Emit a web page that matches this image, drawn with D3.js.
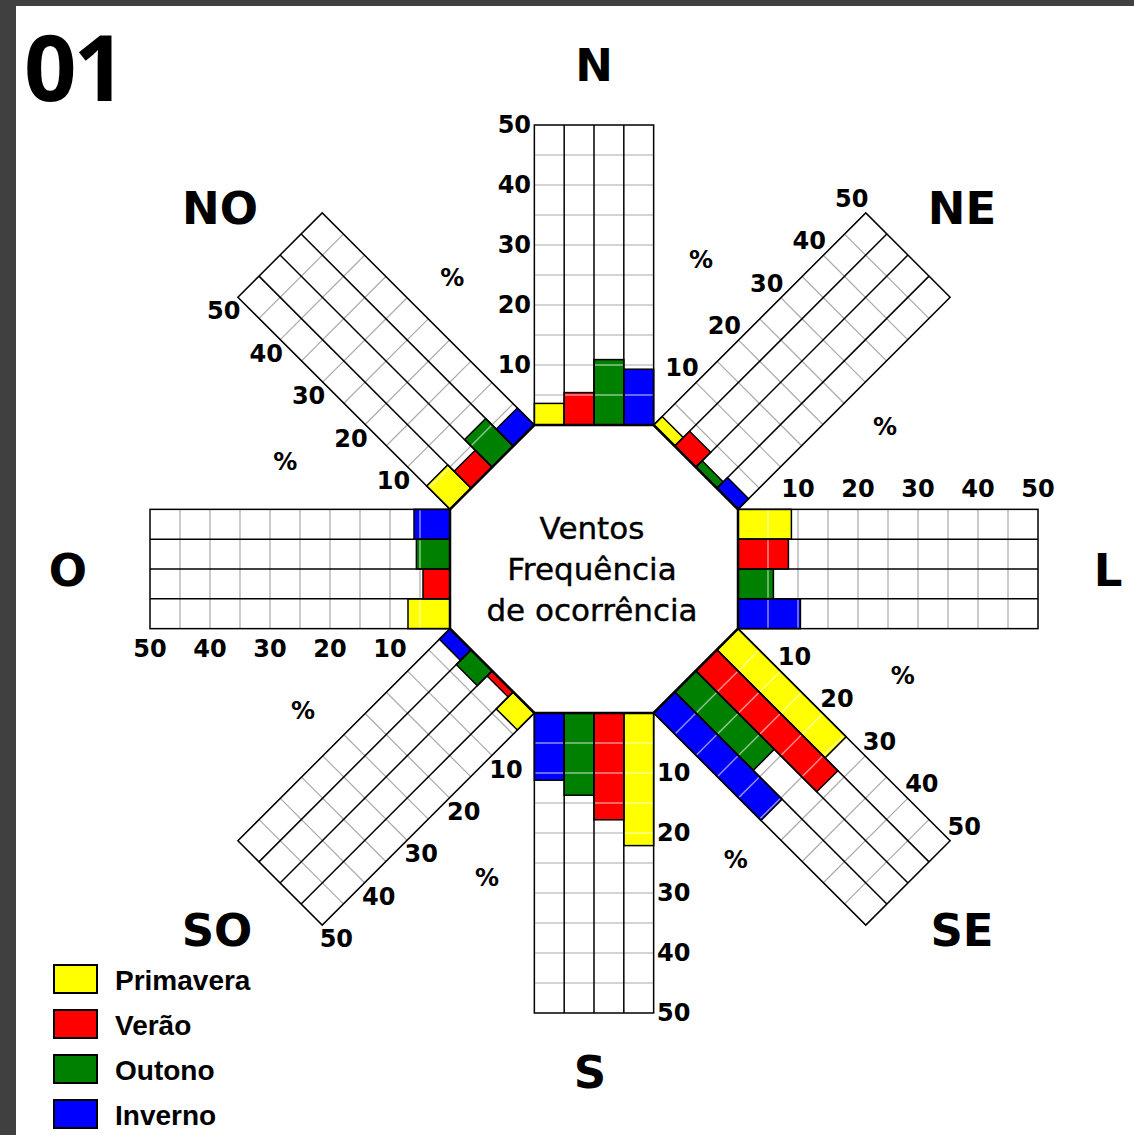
<!DOCTYPE html>
<html>
<head>
<meta charset="utf-8">
<script src="https://cdn.jsdelivr.net/npm/d3@7"></script>
<style>
  body { margin: 0; background: #fff; }
  svg { display: block; }
</style>
</head>
<body>
<div id="chart"></div>
<script>
// Directions, clockwise from north
const directions = ["N", "NE", "L", "SE", "S", "SO", "O", "NO"];
const seasons = ["Primavera", "Verão", "Outono", "Inverno"];

// Frequency of occurrence (%) per direction, one array per season
const primavera = [3.6, 2.0, 8.9, 25.5, 22.1, 4.0, 7.0, 5.5];
const verao     = [5.4, 3.5, 8.4, 28.5, 17.8, 1.2, 4.5, 4.0];
const outono    = [10.9, 1.5, 5.9, 18.5, 13.7, 3.5, 5.6, 6.5];
const inverno   = [9.3, 2.5, 10.4, 25.3, 11.2, 2.5, 6.0, 4.0];

const tickValues = [10, 20, 30, 40, 50];
const seasonColors = ["#ffff00", "#ff0000", "#008000", "#0000ff"];

// Layout
const W = 1134, H = 1135;
const cx = 594, cy = 569;
const apothem = 144;
const armW = 2 * apothem * Math.tan(Math.PI / 8);
// Direction name offsets from the centre
const labelOffset = [[0, -504], [368, -361], [514, 1], [368, 361], [-4, 503], [-377, 361], [-526, 1], [-374, -361]];

const svg = d3.select("#chart").append("svg").attr("width", W).attr("height", H);

// Dark frame
svg.append("rect").attr("x", 0).attr("y", 0).attr("width", 16).attr("height", H).attr("fill", "#404040");
svg.append("rect").attr("x", 0).attr("y", 0).attr("width", W).attr("height", 6).attr("fill", "#404040");

// Scales: value along the arm, season across the arm
const r = d3.scaleLinear().domain([0, 50]).range([0, 300]);
const band = d3.scaleBand().domain(seasons).range([-armW / 2, armW / 2]);

directions.forEach((dir, i) => {
  let angle = i * 45;
  let g = svg.append("g").attr("transform", `translate(${cx},${cy}) rotate(${angle})`);
  let base = -apothem;

  // Arm background
  g.append("rect")
    .attr("x", -armW / 2).attr("y", base - r(50))
    .attr("width", armW).attr("height", r(50))
    .attr("fill", "#fff");

  // Grid lines every 5%
  g.selectAll("line.grid").data(d3.range(5, 50, 5)).enter().append("line")
    .attr("class", "grid")
    .attr("x1", -armW / 2).attr("x2", armW / 2)
    .attr("y1", d => base - r(d)).attr("y2", d => base - r(d))
    .attr("stroke", "#aaa").attr("stroke-width", 1.2);

  // Bars
  let vals = [primavera[i], verao[i], outono[i], inverno[i]];
  g.selectAll("rect.bar").data(vals).enter().append("rect")
    .attr("class", "bar")
    .attr("x", (d, j) => band(seasons[j]))
    .attr("y", d => base - r(d))
    .attr("width", band.bandwidth())
    .attr("height", d => r(d))
    .attr("fill", (d, j) => seasonColors[j])
    .attr("stroke", "#000").attr("stroke-width", 1.5);

  // Pale grid lines showing through the bars
  vals.forEach((v, j) => {
    g.selectAll("line.in" + j).data(d3.range(5, v, 5)).enter().append("line")
      .attr("x1", band(seasons[j]) + 1).attr("x2", band(seasons[j]) + band.bandwidth() - 1)
      .attr("y1", d => base - r(d)).attr("y2", d => base - r(d))
      .attr("stroke", "#fff").attr("stroke-opacity", 0.55).attr("stroke-width", 1.5);
  });

  // Separators between bars
  g.selectAll("line.sep").data(seasons.slice(1)).enter().append("line")
    .attr("x1", d => band(d)).attr("x2", d => band(d))
    .attr("y1", base).attr("y2", base - r(50))
    .attr("stroke", "#000").attr("stroke-width", 1.5);

  // Arm outline
  g.append("rect")
    .attr("x", -armW / 2).attr("y", base - r(50))
    .attr("width", armW).attr("height", r(50))
    .attr("fill", "none").attr("stroke", "#000").attr("stroke-width", 1.5);

  // Heavier line along the octagon edge
  g.append("line")
    .attr("x1", -armW / 2).attr("x2", armW / 2)
    .attr("y1", base).attr("y2", base)
    .attr("stroke", "#000").attr("stroke-width", 2.5);

  // Tick labels on the left side (looking outward)
  g.selectAll("text.tick").data(tickValues).enter().append("text")
    .attr("transform", d => `translate(${-armW / 2 - 20},${base - r(d)}) rotate(${-angle})`)
    .attr("text-anchor", "middle").attr("dominant-baseline", "central")
    .attr("font-family", "DejaVu Sans").attr("font-weight", "bold").attr("font-size", 24)
    .text(d => d);

  // Percent signs on diagonal arms
  if (i % 2 == 1) {
    [[-armW / 2 - 83, base - 150], [armW / 2 + 46, base - 162]].forEach(p => {
      g.append("text")
        .attr("transform", `translate(${p[0]},${p[1]}) rotate(${-angle})`)
        .attr("text-anchor", "middle").attr("dominant-baseline", "central")
        .attr("font-family", "DejaVu Sans").attr("font-weight", "bold").attr("font-size", 24)
        .text("%");
    });
  }

  // Direction name
  svg.append("text")
    .attr("x", cx + labelOffset[i][0])
    .attr("y", cy + labelOffset[i][1])
    .attr("text-anchor", "middle").attr("dominant-baseline", "central")
    .attr("font-family", "DejaVu Sans").attr("font-weight", "bold").attr("font-size", 45)
    .text(dir);
});

// Centre caption
["Ventos", "Frequência", "de ocorrência"].forEach((t, k) => {
  svg.append("text")
    .attr("x", cx - 2).attr("y", 528 + k * 41)
    .attr("text-anchor", "middle").attr("dominant-baseline", "central")
    .attr("font-family", "DejaVu Sans").attr("font-size", 31)
    .attr("stroke", "#000").attr("stroke-width", 0.4)
    .text(t);
});

// Panel number
svg.append("text")
  .attr("x", 24).attr("y", 101)
  .attr("font-family", "Open Sans").attr("font-weight", "bold").attr("font-size", 92)
  .attr("letter-spacing", -3)
  .text("01");

// Legend
let legend = svg.selectAll("g.legend").data(seasons).enter().append("g")
  .attr("class", "legend")
  .attr("transform", (d, k) => `translate(54,${965 + k * 45})`);
legend.append("rect")
  .attr("width", 43).attr("height", 28)
  .attr("fill", (d, k) => seasonColors[k])
  .attr("stroke", "#000").attr("stroke-width", 2);
legend.append("text")
  .attr("x", 61).attr("y", 15)
  .attr("dominant-baseline", "central")
  .attr("font-family", "Liberation Sans").attr("font-weight", "bold").attr("font-size", 28)
  .text(d => d);
</script>
</body>
</html>
